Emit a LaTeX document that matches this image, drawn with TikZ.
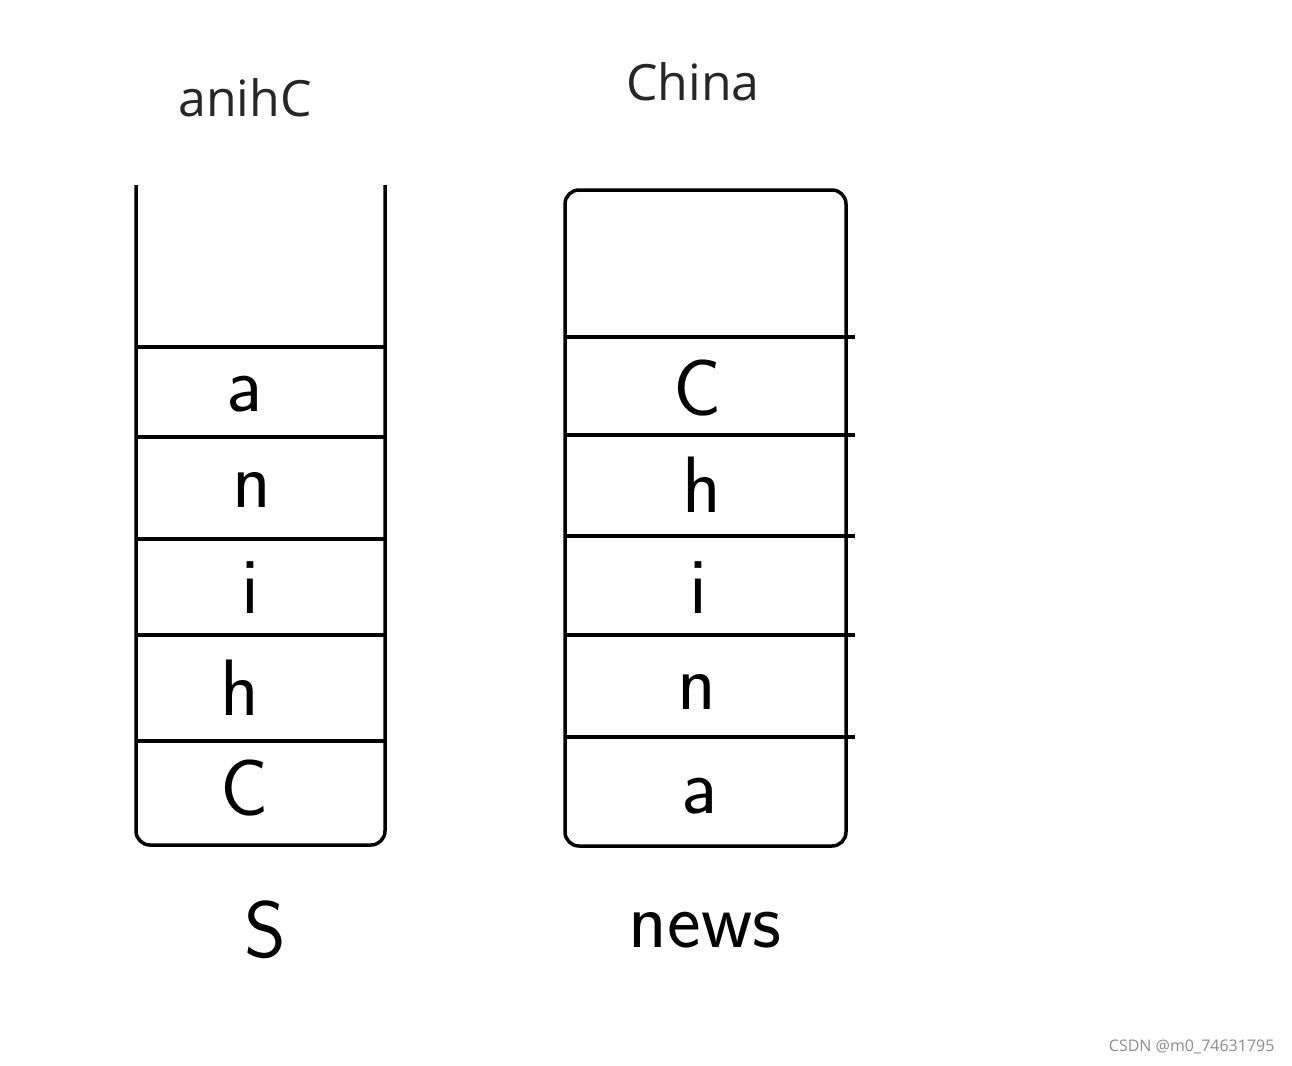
\documentclass[tikz,border=0pt]{standalone}
\usepackage{fontspec}
\setmainfont{Open Sans}
\begin{document}
\begin{tikzpicture}[x=1pt,y=-1pt,
  wall/.style={line width=3.5pt,line join=round},
  hand/.style={font=\fontsize{80}{80}\selectfont\sffamily},
  ttl/.style={font=\fontsize{50}{50}\selectfont,text=black!85},
  wmark/.style={font=\fontsize{16}{16}\selectfont,text=black!45}]
\useasboundingbox[fill=white] (0,0) rectangle (1292,1065);
% left stack
\draw[wall,rounded corners=14pt] (136,185) -- (136,845) -- (385,845) -- (385,185);
\foreach \yy in {347,437,539,635,741} \draw[wall] (136,\yy) -- (386,\yy);
\node[hand] (la) at (245,394) {a};
\node[hand] (ln) at (252,490) {n};
\node[hand] (li) at (250,588) {i};
\node[hand] (lh) at (240,688) {h};
\node[hand] (lc) at (245,788) {C};
\node[ttl] (lt) at (245,98) {anihC};
\node[hand] (ls) at (265,930) {S};
% right stack
\draw[wall,rounded corners=14pt] (565,846) -- (565,190) -- (846,190) -- (846,846) -- cycle;
\foreach \yy in {337,435,536,635,737} \draw[wall] (565,\yy) -- (855,\yy);
\node[hand] (rc) at (698,388) {C};
\node[hand] (rh) at (702,485) {h};
\node[hand] (ri) at (698,588) {i};
\node[hand] (rn) at (697,692) {n};
\node[hand] (ra) at (700,796) {a};
\node[ttl] (rt) at (693,82) {China};
\node[hand] (rs) at (705,930) {news};
\node[wmark,anchor=east] (wm) at (1278,1047) {CSDN @m0\_74631795};
\end{tikzpicture}
\end{document}
